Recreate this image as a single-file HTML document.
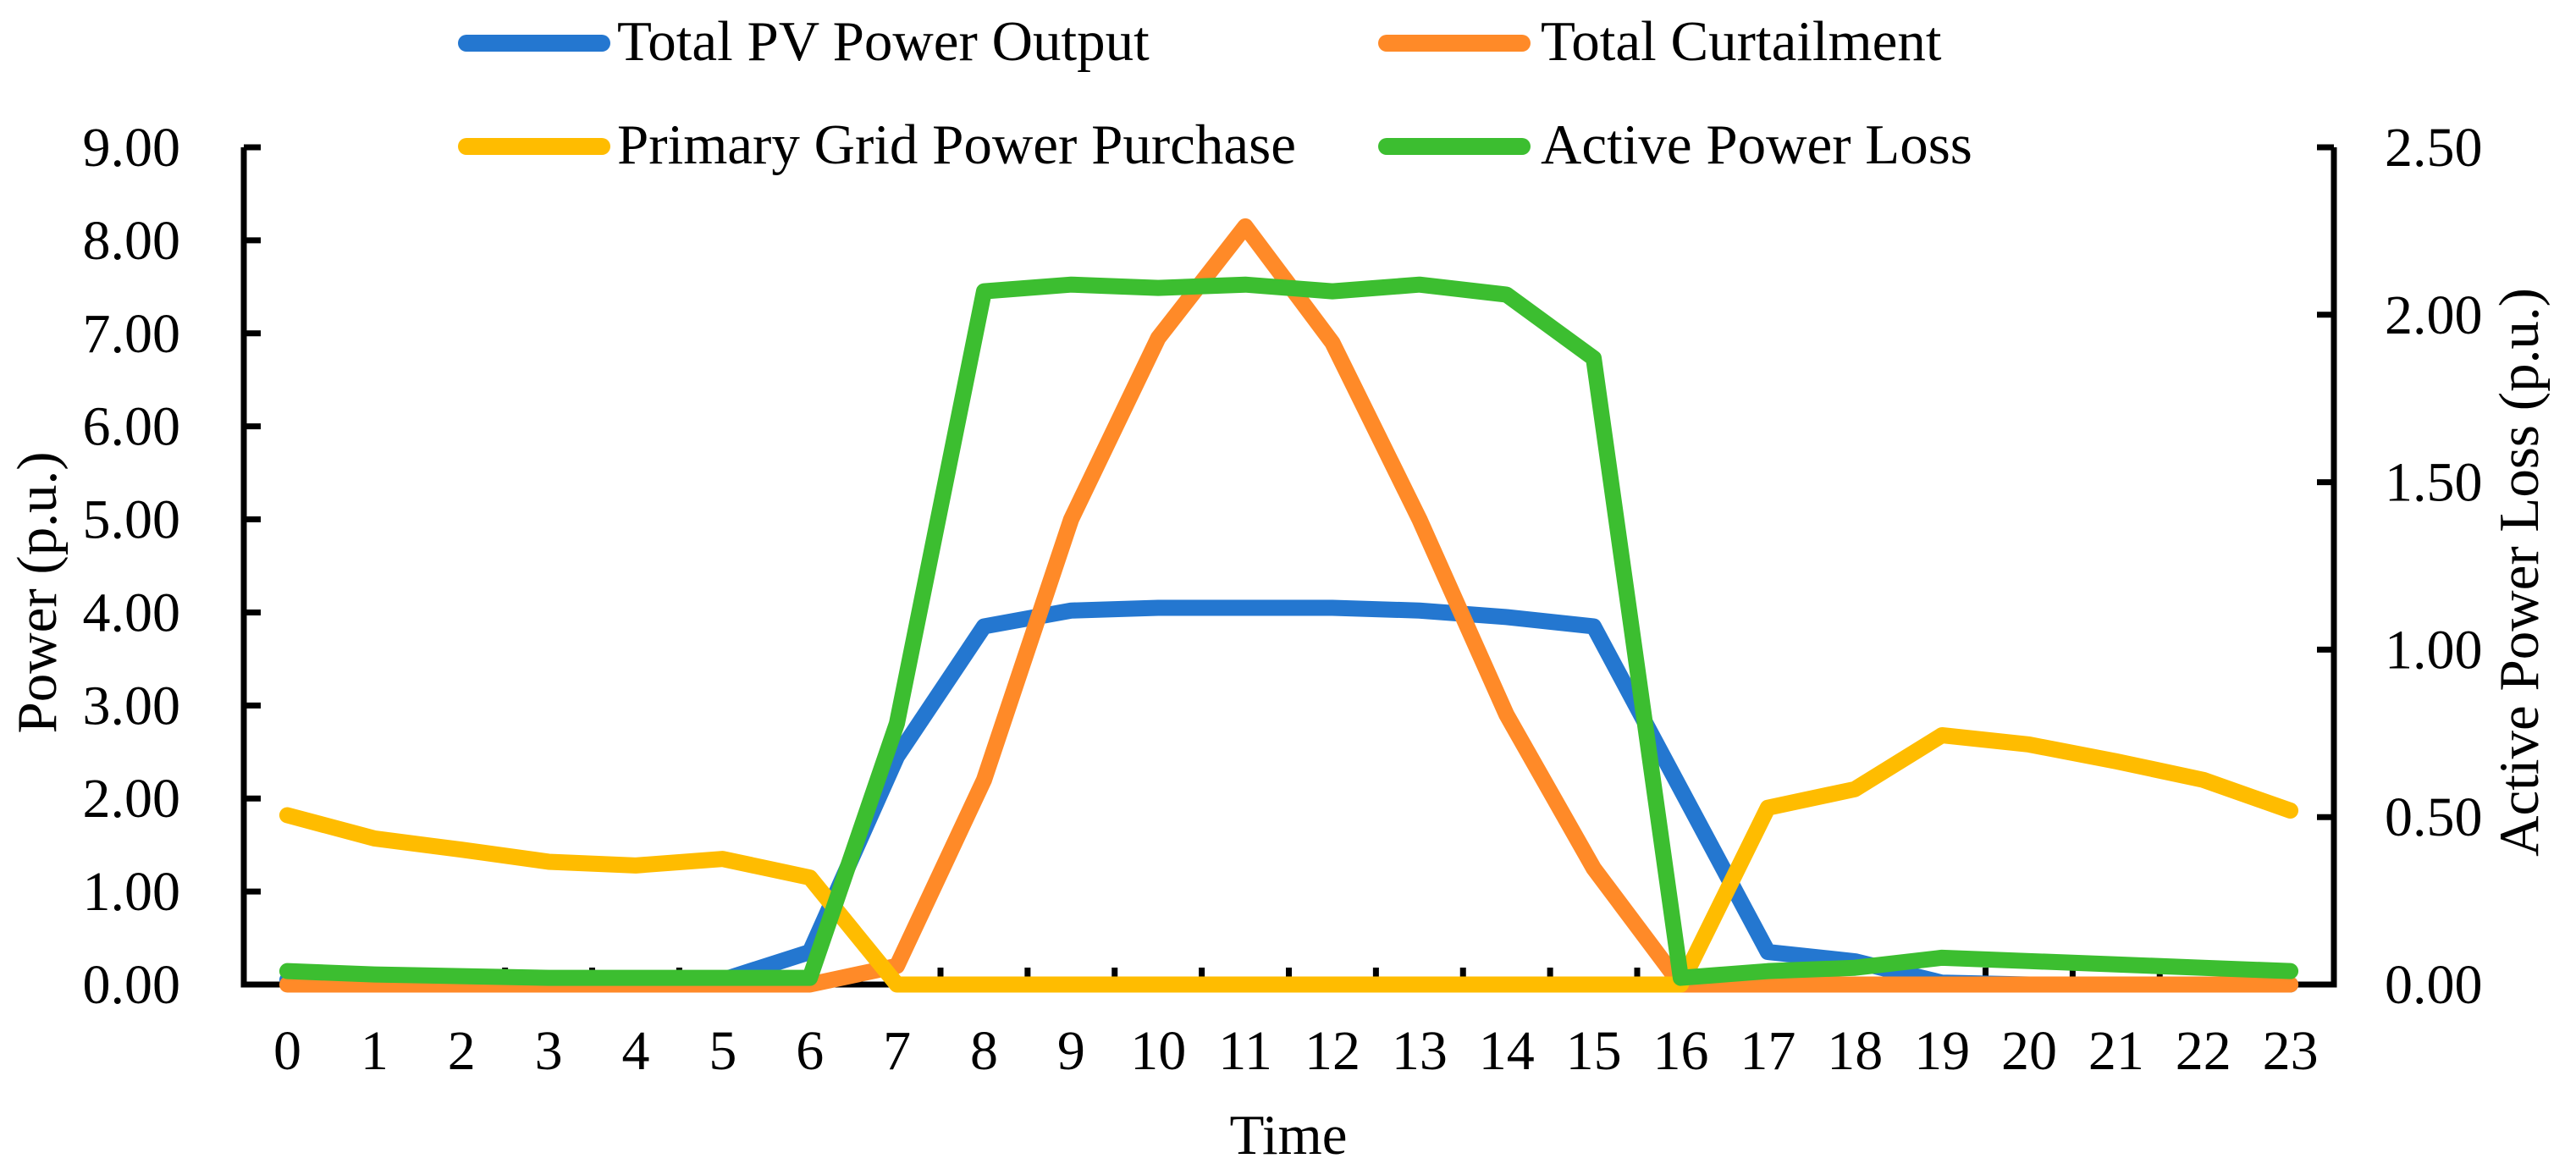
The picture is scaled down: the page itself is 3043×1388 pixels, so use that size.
<!DOCTYPE html>
<html><head><meta charset="utf-8"><style>
body{margin:0;background:#fff}
svg{display:block;font-family:"Liberation Serif",serif}
</style></head><body>
<svg id="chart" width="3043" height="1388" viewBox="0 0 3043 1388" xmlns="http://www.w3.org/2000/svg">
<g id="legend">
 <g><line x1="551" y1="51" x2="711" y2="51" stroke="#2477D0" stroke-width="20" stroke-linecap="round"/><text x="729" y="71" font-size="67">Total PV Power Output</text></g>
 <g><line x1="1638" y1="51" x2="1798" y2="51" stroke="#FF8A28" stroke-width="20" stroke-linecap="round"/><text x="1820" y="71" font-size="67">Total Curtailment</text></g>
 <g><line x1="551" y1="173" x2="711" y2="173" stroke="#FFBC00" stroke-width="20" stroke-linecap="round"/><text x="729" y="193" font-size="67">Primary Grid Power Purchase</text></g>
 <g><line x1="1638" y1="173" x2="1798" y2="173" stroke="#3CBE30" stroke-width="20" stroke-linecap="round"/><text x="1820" y="193" font-size="67">Active Power Loss</text></g>
</g>
<g id="axes"></g>
<g id="series"></g>
<text transform="translate(66,700) rotate(-90)" text-anchor="middle" font-size="67">Power (p.u.)</text>
<text transform="translate(2998,676) rotate(-90)" text-anchor="middle" font-size="67">Active Power Loss (p.u.)</text>
<text x="1522" y="1363" text-anchor="middle" font-size="67">Time</text>
</svg>
<script>
const categories = [0,1,2,3,4,5,6,7,8,9,10,11,12,13,14,15,16,17,18,19,20,21,22,23];
const pvOutput = [0.05,0.05,0.05,0.05,0.05,0.05,0.35,2.45,3.85,4.02,4.05,4.05,4.05,4.02,3.95,3.85,2.1,0.35,0.25,0.02,0,0,0,0];
const curtailment = [0,0,0,0,0,0,0,0.2,2.2,5.0,6.95,8.15,6.9,5.0,2.9,1.25,0,0,0,0,0,0,0,0];
const gridPurchase = [1.82,1.57,1.45,1.32,1.28,1.35,1.15,0,0,0,0,0,0,0,0,0,0,1.9,2.1,2.68,2.58,2.4,2.2,1.87];
const powerLoss = [0.04,0.03,0.025,0.02,0.02,0.02,0.02,0.78,2.07,2.09,2.08,2.09,2.07,2.09,2.06,1.87,0.02,0.04,0.05,0.08,0.07,0.06,0.05,0.04];
const leftTicks = ["0.00","1.00","2.00","3.00","4.00","5.00","6.00","7.00","8.00","9.00"];
const rightTicks = ["0.00","0.50","1.00","1.50","2.00","2.50"];

const NS="http://www.w3.org/2000/svg";
const X0=288,X1=2757,Y0=1163,Y1=174,LMAX=9,RMAX=2.5;
const step=(X1-X0)/categories.length;
const xPos=i=>X0+step*(i+0.5);
const yL=v=>Y0-(v/LMAX)*(Y0-Y1);
const yR=v=>Y0-(v/RMAX)*(Y0-Y1);
function mk(tag,attrs,parent){const e=document.createElementNS(NS,tag);for(const k in attrs)e.setAttribute(k,attrs[k]);parent.appendChild(e);return e;}
const axes=document.getElementById('axes');
const series=document.getElementById('series');

let a=mk('line',{x1:X0,y1:Y1,x2:X0,y2:Y0+3.5,stroke:'#000','stroke-width':7},axes);


a=mk('line',{x1:X1,y1:Y1,x2:X1,y2:Y0+3.5,stroke:'#000','stroke-width':7},axes);


a=mk('line',{x1:X0-3.5,y1:Y0,x2:X1+3.5,y2:Y0,stroke:'#000','stroke-width':7},axes);



leftTicks.forEach(t=>{
  const y=yL(parseFloat(t));
  mk('line',{x1:X0,y1:y,x2:X0+20,y2:y,stroke:'#000','stroke-width':7},axes);
  const tx=mk('text',{x:213,y:y+22,'text-anchor':'end','font-size':66},axes);
  tx.textContent=t;
  
  
});
rightTicks.forEach(t=>{
  const y=yR(parseFloat(t));
  mk('line',{x1:X1,y1:y,x2:X1-20,y2:y,stroke:'#000','stroke-width':7},axes);
  const tx=mk('text',{x:2817,y:y+22,'font-size':66},axes);
  tx.textContent=t;
  
  
});
categories.forEach((c,i)=>{
  if(i>0){const xb=X0+step*i;mk('line',{x1:xb,y1:Y0,x2:xb,y2:Y0-20,stroke:'#000','stroke-width':7},axes);}
  const tx=mk('text',{x:xPos(i),y:1263,'text-anchor':'middle','font-size':66},axes);
  tx.textContent=c;
  
  
});

function drawLine(vals,scale,color,name){
  const pts=vals.map((v,i)=>xPos(i)+','+scale(v)).join(' ');
  const p=mk('polyline',{points:pts,fill:'none',stroke:color,'stroke-width':19,'stroke-linejoin':'round','stroke-linecap':'round'},series);
  
  
}
drawLine(pvOutput,yL,'#2477D0','pv-output-line');
drawLine(curtailment,yL,'#FF8A28','curtailment-line');
drawLine(gridPurchase,yL,'#FFBC00','grid-purchase-line');
drawLine(powerLoss,yR,'#3CBE30','power-loss-line');
</script>
</body></html>
